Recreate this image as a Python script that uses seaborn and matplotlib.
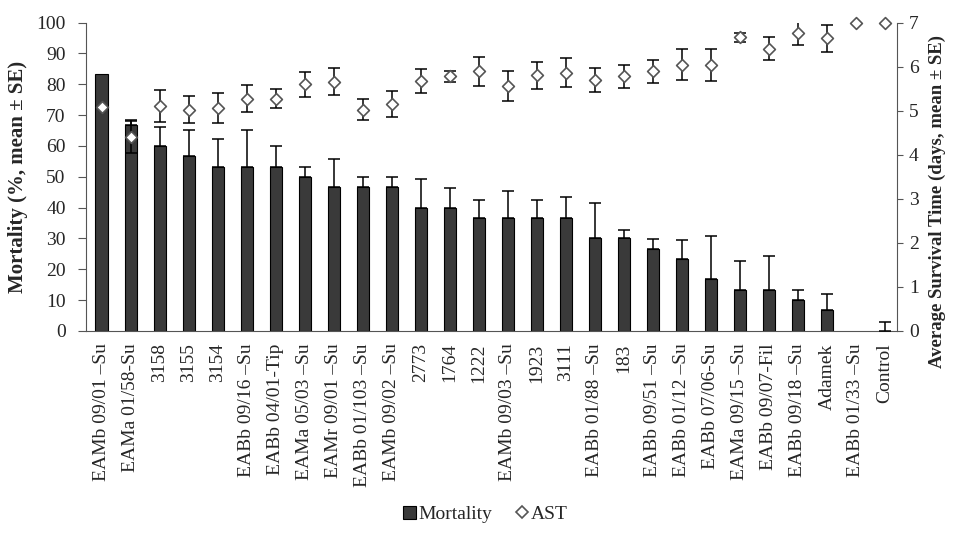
import numpy as np
import pandas as pd
import matplotlib
matplotlib.use("Agg")
import matplotlib.pyplot as plt
from matplotlib.patches import Patch
from matplotlib.lines import Line2D
import seaborn as sns

categories = [
    "EAMb 09/01 –Su", "EAMa 01/58-Su", "3158", "3155", "3154",
    "EABb 09/16 –Su", "EABb 04/01-Tip", "EAMa 05/03 –Su", "EAMr 09/01 –Su",
    "EABb 01/103 –Su", "EAMb 09/02 –Su", "2773", "1764", "1222",
    "EAMb 09/03 –Su", "1923", "3111", "EABb 01/88 –Su", "183",
    "EABb 09/51 –Su", "EABb 01/12 –Su", "EABb 07/06-Su", "EAMa 09/15 –Su",
    "EABb 09/07-Fil", "EABb 09/18 –Su", "Adamek", "EABb 01/33 –Su", "Control",
]
mortality = [83.3, 66.7, 60.0, 56.7, 53.3, 53.3, 53.3, 50.0, 46.7, 46.7,
             46.7, 40.0, 40.0, 36.7, 36.7, 36.7, 36.7, 30.0, 30.0, 26.7,
             23.3, 16.7, 13.3, 13.3, 10.0, 6.7, 0.0, 0.0]
mortality_se = [0.0, 1.8, 6.2, 8.4, 8.9, 12.0, 6.7, 3.2, 8.9, 3.1,
                3.1, 9.4, 6.3, 5.8, 8.8, 5.6, 6.7, 11.4, 2.7, 3.2,
                6.2, 14.0, 9.5, 11.1, 3.1, 5.1, 0.0, 2.8]
ast = [5.08, 4.40, 5.11, 5.02, 5.05, 5.27, 5.27, 5.60, 5.66, 5.02,
       5.15, 5.67, 5.78, 5.89, 5.56, 5.80, 5.86, 5.70, 5.78, 5.89,
       6.04, 6.04, 6.67, 6.41, 6.77, 6.64, 7.00, 7.00]
ast_se = [0.0, 0.37, 0.37, 0.31, 0.34, 0.31, 0.22, 0.28, 0.31, 0.24,
          0.29, 0.28, 0.13, 0.33, 0.33, 0.30, 0.33, 0.28, 0.26, 0.26,
          0.35, 0.37, 0.10, 0.26, 0.28, 0.31, 0.0, 0.0]

df = pd.DataFrame({"Strain": categories, "Mortality": mortality,
                   "MortSE": mortality_se, "AST": ast, "ASTSE": ast_se})
df["pos"] = np.arange(len(df))

sns.set_style("ticks")
serif = ["Liberation Serif", "DejaVu Serif"]
plt.rcParams["font.family"] = serif

fig = plt.figure(figsize=(9.61, 5.38), dpi=100)
ax = fig.add_axes([0.090, 0.385, 0.843, 0.573])

sns.barplot(data=df, x="Strain", y="Mortality", color="#3a3a3a",
            saturation=1, width=0.42, edgecolor="black", linewidth=0.8,
            errorbar=None, ax=ax)
for patch, val in zip(ax.patches, df["Mortality"]):
    if val == 0:
        patch.set_linewidth(0)
me = df[df["MortSE"] > 0]
ax.errorbar(me["pos"], me["Mortality"],
            yerr=[np.zeros(len(me)), me["MortSE"]], fmt="none",
            ecolor="black", elinewidth=1.1, capsize=4.2, capthick=1.1,
            zorder=3)

ax.set_xlim(-0.52, 27.4)
ax.set_ylim(0, 100)
ax.set_yticks(np.arange(0, 101, 10))
ax.set_xlabel("")
ax.set_ylabel("Mortality (%, mean ± SE)", fontsize=15, fontweight="bold",
              labelpad=6)
ax.tick_params(axis="y", direction="out", length=6, width=0.8,
               labelsize=14, pad=9, color="#555555")
ax.tick_params(axis="x", length=0, labelsize=14, pad=9, rotation=90)
for sp in ["top", "right"]:
    ax.spines[sp].set_visible(False)
ax.spines["left"].set_color("#555555")
ax.spines["bottom"].set_color("#555555")

ax2 = ax.twinx()
ae = df[df["ASTSE"] > 0]
ax2.errorbar(ae["pos"], ae["AST"], yerr=ae["ASTSE"], fmt="none",
             ecolor="black", elinewidth=1.1, capsize=4.0, capthick=1.1,
             zorder=3)
sns.scatterplot(data=df, x="pos", y="AST", marker="D", s=36,
                facecolor="white", edgecolor="#555555", linewidth=1.2,
                ax=ax2, zorder=4, clip_on=False)
ax2.set_ylim(0, 7)
ax2.set_yticks(np.arange(0, 8, 1))
ax2.set_xlim(-0.52, 27.4)
ax2.set_ylabel("Average Survival Time (days, mean ± SE)", fontsize=13.5,
               fontweight="bold", labelpad=7)
ax2.yaxis.label.set_y(0.42)
ax2.tick_params(axis="y", direction="out", length=4, width=0.8,
                labelsize=14, pad=5, color="#555555")
for sp in ["top", "left", "bottom"]:
    ax2.spines[sp].set_visible(False)
ax2.spines["right"].set_color("#555555")

handles = [Patch(facecolor="#3a3a3a", edgecolor="black", linewidth=0.8),
           Line2D([], [], linestyle="none", marker="D", markersize=6,
                  markerfacecolor="white", markeredgecolor="#555555",
                  markeredgewidth=1.2)]
fig.legend(handles, ["Mortality", "AST"], loc="lower center",
           bbox_to_anchor=(0.505, -0.005), ncol=2, frameon=False,
           fontsize=14, handlelength=0.7, handleheight=0.7,
           handletextpad=0.1, columnspacing=1.2)

fig.savefig("out.png", dpi=100)
